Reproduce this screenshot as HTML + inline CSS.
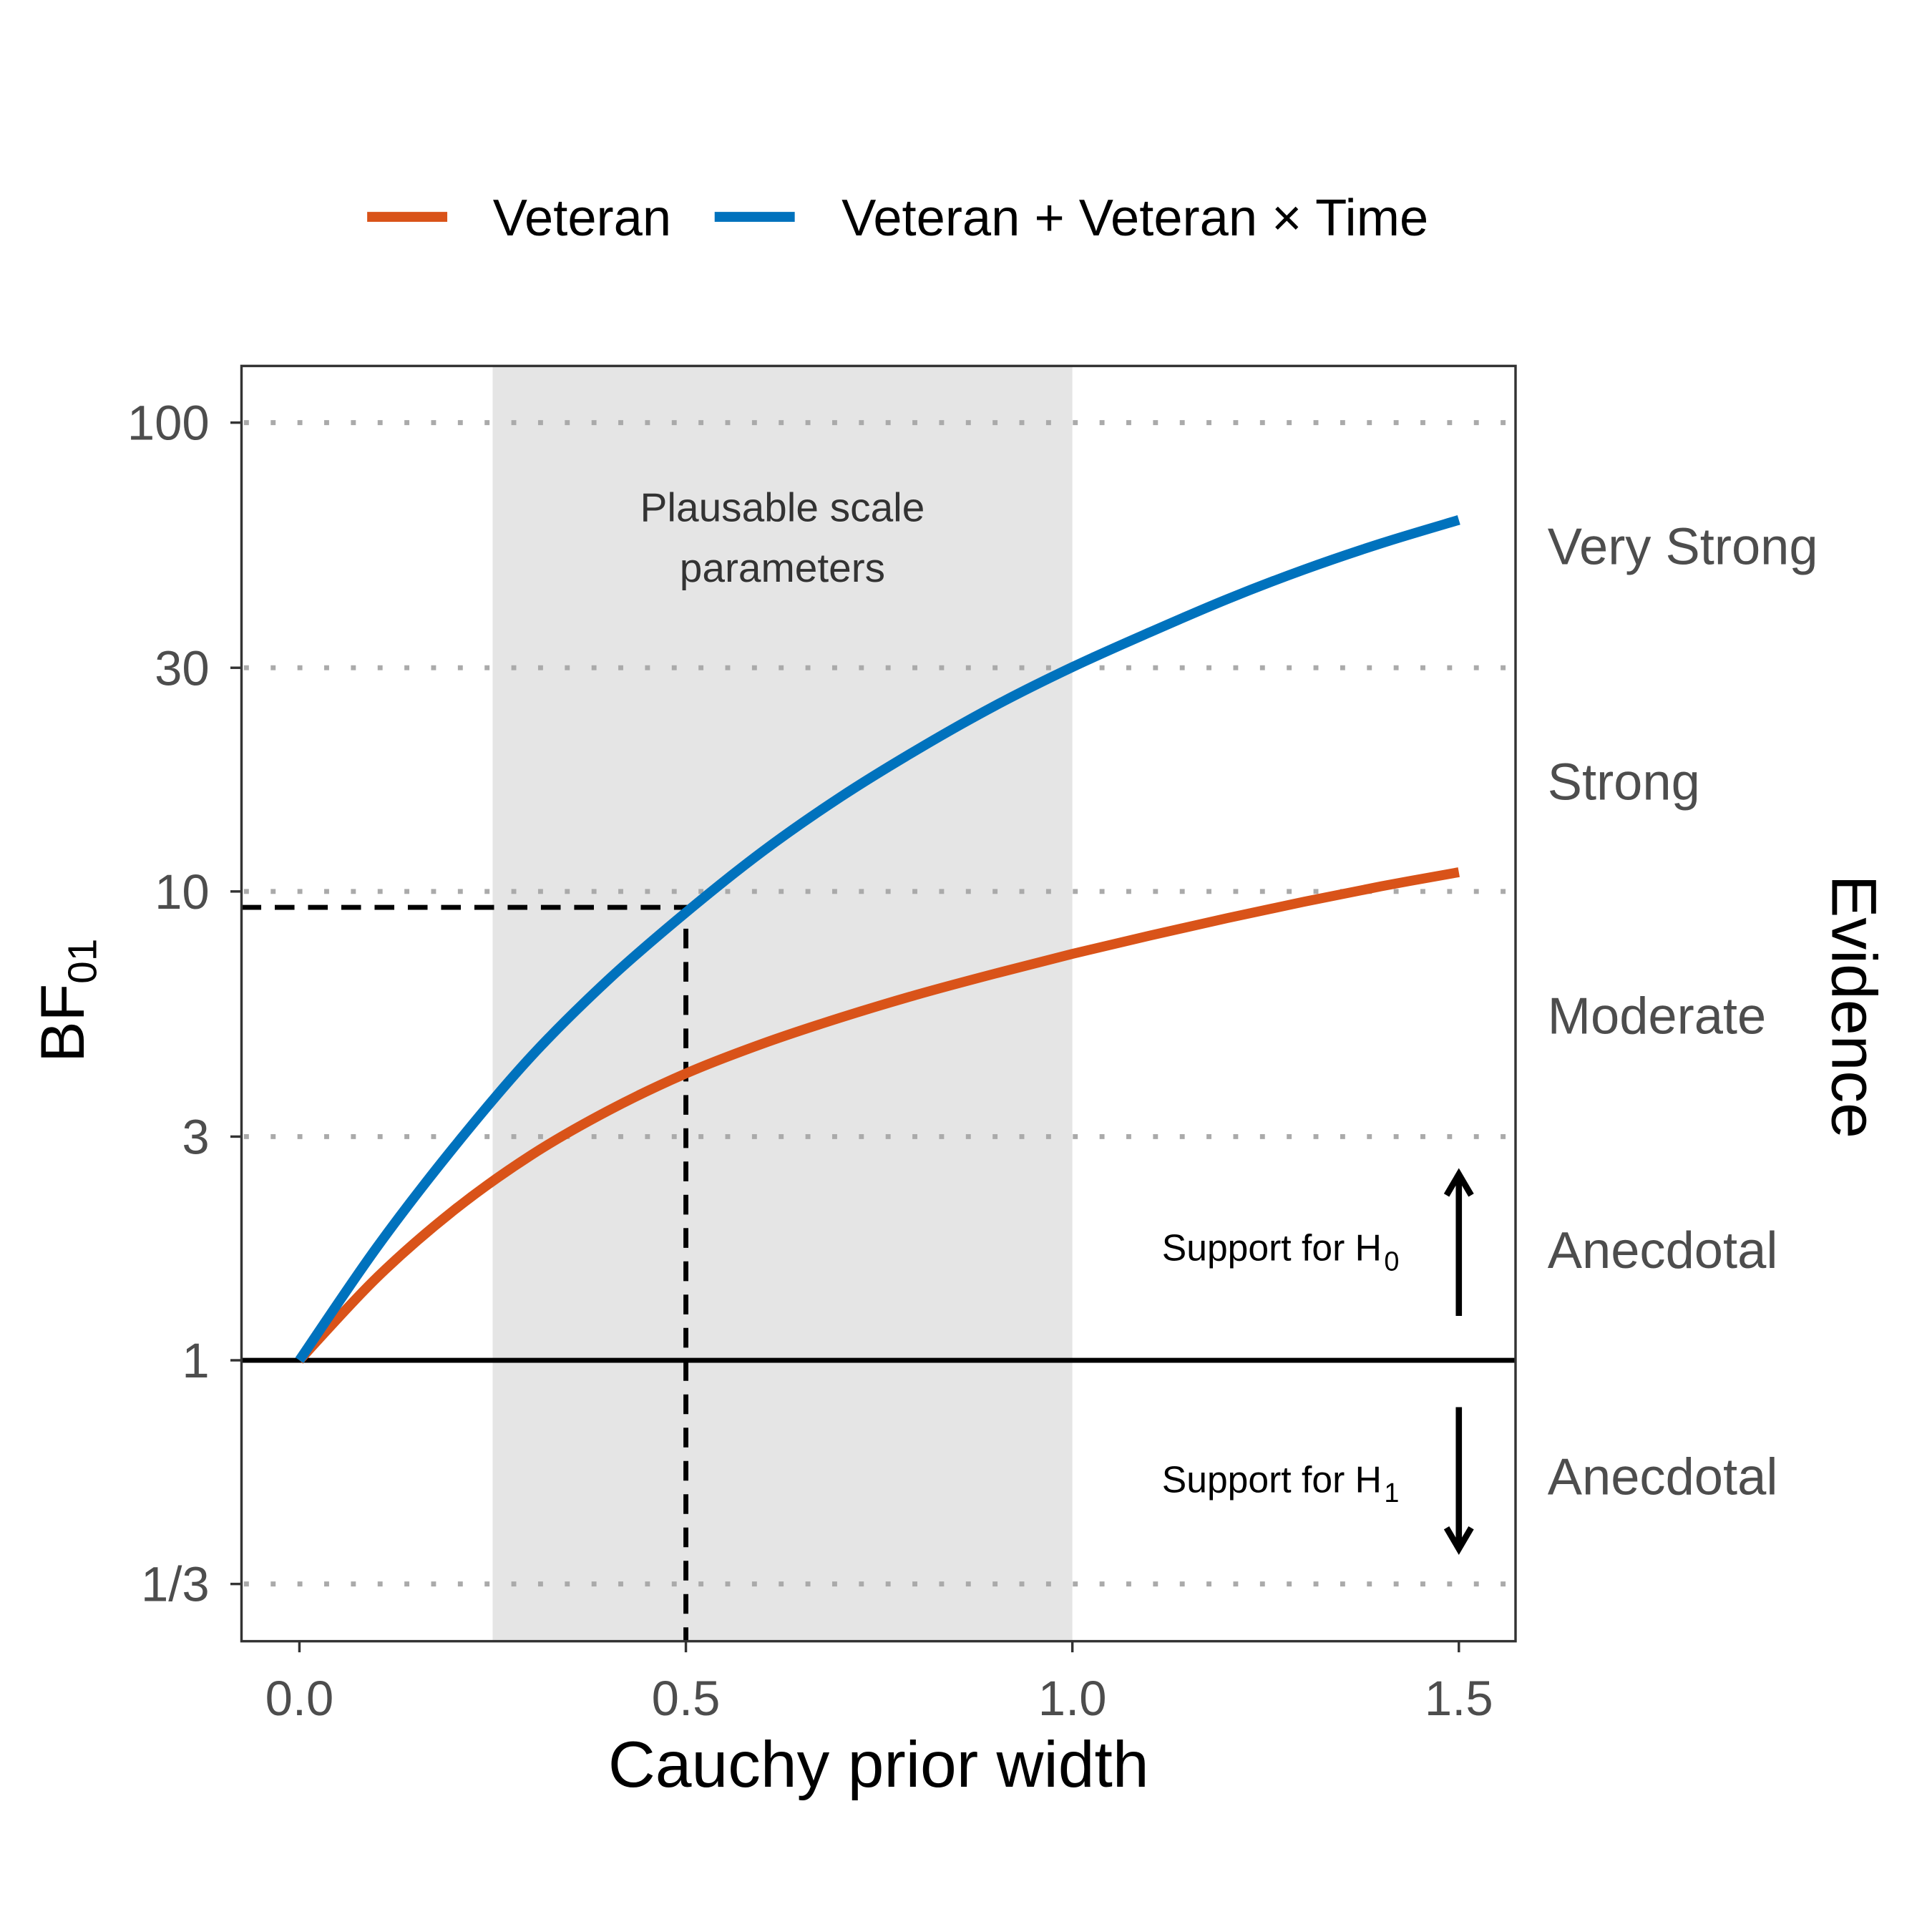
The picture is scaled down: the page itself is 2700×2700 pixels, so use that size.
<!DOCTYPE html>
<html><head><meta charset="utf-8"><style>
html,body{margin:0;padding:0;background:#fff}
svg{display:block;font-family:"Liberation Sans",sans-serif}
</style></head><body>
<svg id="chart" width="2700" height="2700" viewBox="0 0 1568 1568" xmlns="http://www.w3.org/2000/svg">
<g id="legend">
<line x1="298" y1="176" x2="363" y2="176" stroke="#D95319" stroke-width="8"/>
<text x="400" y="191" font-size="42" fill="#000">Veteran</text>
<line x1="580" y1="176" x2="645" y2="176" stroke="#0072BD" stroke-width="8"/>
<text x="683" y="191" font-size="42" fill="#000">Veteran + Veteran × Time</text>
</g>
<g id="plot"></g>
</svg>
<script>
const xs = [0,0.1,0.2,0.3,0.4,0.5,0.6,0.7,0.8,0.9,1.0,1.1,1.2,1.3,1.4,1.5];
const blueVals = [1,1.74,2.85,4.45,6.49,9.02,12.2,15.9,20.1,24.9,30.1,35.7,42.0,48.6,55.3,62];
const orangeVals = [1,1.50,2.09,2.74,3.41,4.09,4.74,5.38,6.03,6.68,7.36,8.05,8.77,9.51,10.26,10.99];
const yTicks = [1/3,1,3,10,30,100];
const yTickLabels = ["1/3","1","3","10","30","100"];
const xTicks = [0,0.5,1.0,1.5];
const xTickLabels = ["0.0","0.5","1.0","1.5"];
const evidenceLabels = ["Very Strong","Strong","Moderate","Anecdotal","Anecdotal"];
const shadeRange = [0.25,1.0];
const refPoint = [0.5,9.25];

const L=196,R=1230,T=297,B=1332;
const sx = v => 243 + v*(1184-243)/1.5;
const sy = v => 1104 - Math.log10(v)*380.5;
const NS="http://www.w3.org/2000/svg";
const g=document.getElementById('plot');
function mk(tag,attrs,parent){const e=document.createElementNS(NS,tag);for(const k in attrs)e.setAttribute(k,attrs[k]);(parent||g).appendChild(e);return e;}

let e=mk('rect',{x:sx(shadeRange[0]),y:T,width:sx(shadeRange[1])-sx(shadeRange[0]),height:B-T,fill:'#e5e5e5'});


yTicks.forEach((t,i)=>{
 if(t!==1){const l=mk('line',{x1:L+2,x2:R,y1:sy(t),y2:sy(t),stroke:'#aaa','stroke-width':4,'stroke-dasharray':'4 17.7'});
 
 }
 const tx=mk('text',{x:L-26,y:sy(t)+14,'font-size':40,fill:'#4d4d4d','text-anchor':'end'});tx.textContent=yTickLabels[i];
 
 
});
let t1=mk('text',{x:635,y:423,'font-size':33,fill:'#333','text-anchor':'middle'});t1.textContent='Plausable scale';


let t2=mk('text',{x:635,y:472,'font-size':33,fill:'#333','text-anchor':'middle'});t2.textContent='parameters';



let bl=mk('line',{x1:L,x2:R,y1:sy(1),y2:sy(1),stroke:'#000','stroke-width':4});


let dh=mk('polyline',{points:`${L},${sy(refPoint[1])} ${sx(refPoint[0])},${sy(refPoint[1])} ${sx(refPoint[0])},${B}`,fill:'none',stroke:'#000','stroke-width':4,'stroke-dasharray':'16 11'});



function curve(vals){
 const p=xs.map((x,i)=>[sx(x),sy(vals[i])]);
 let d=`M${p[0][0]},${p[0][1]}`;
 for(let i=0;i<p.length-1;i++){const p0=p[Math.max(0,i-1)],p1=p[i],p2=p[i+1],p3=p[Math.min(p.length-1,i+2)];
  d+=` C${p1[0]+(p2[0]-p0[0])/6},${p1[1]+(p2[1]-p0[1])/6} ${p2[0]-(p3[0]-p1[0])/6},${p2[1]-(p3[1]-p1[1])/6} ${p2[0]},${p2[1]}`;}
 return d;}
let oc=mk('path',{d:curve(orangeVals),fill:'none',stroke:'#D95319','stroke-width':8});


let bc=mk('path',{d:curve(blueVals),fill:'none',stroke:'#0072BD','stroke-width':8});



let fr=mk('rect',{x:L,y:T,width:R-L,height:B-T,fill:'none',stroke:'#333','stroke-width':2});



xTicks.forEach((t,i)=>{
 const tk=mk('line',{x1:sx(t),x2:sx(t),y1:B,y2:B+9,stroke:'#333','stroke-width':2});
 
 
 const tx=mk('text',{x:sx(t),y:B+60,'font-size':40,fill:'#4d4d4d','text-anchor':'middle'});tx.textContent=xTickLabels[i];
 
 
});
yTicks.forEach(t=>{const tk=mk('line',{x1:L-9,x2:L,y1:sy(t),y2:sy(t),stroke:'#333','stroke-width':2});
 
 });

let a1=mk('path',{d:`M1184,1068 L1184,955 M1174,970 L1184,953 L1194,970`,fill:'none',stroke:'#000','stroke-width':5});


let a2=mk('path',{d:`M1184,1142 L1184,1255 M1174,1240 L1184,1257 L1194,1240`,fill:'none',stroke:'#000','stroke-width':5});


let s0=mk('text',{x:943,y:1023,'font-size':30,fill:'#000'});s0.innerHTML='Support for H<tspan font-size="22" dy="8" dx="2">0</tspan>';


let s1=mk('text',{x:943,y:1211,'font-size':30,fill:'#000'});s1.innerHTML='Support for H<tspan font-size="22" dy="8" dx="2">1</tspan>';



const evY=[458,649,839,1029,1213];
evidenceLabels.forEach((s,i)=>{const tx=mk('text',{x:1256,y:evY[i],'font-size':42,fill:'#4d4d4d'});tx.textContent=s;
 
 });

let ev=mk('text',{x:0,y:0,'font-size':52,fill:'#000','text-anchor':'middle',transform:'translate(1487,817) rotate(90)'});ev.textContent='Evidence';


let xt=mk('text',{x:713,y:1450,'font-size':53,fill:'#000','text-anchor':'middle'});xt.textContent='Cauchy prior width';


let yt=mk('text',{x:0,y:0,'font-size':50,fill:'#000','text-anchor':'middle',transform:'translate(68,812) rotate(-90)'});yt.innerHTML='BF<tspan font-size="33" dy="10">01</tspan>';


</script>
</body></html>
